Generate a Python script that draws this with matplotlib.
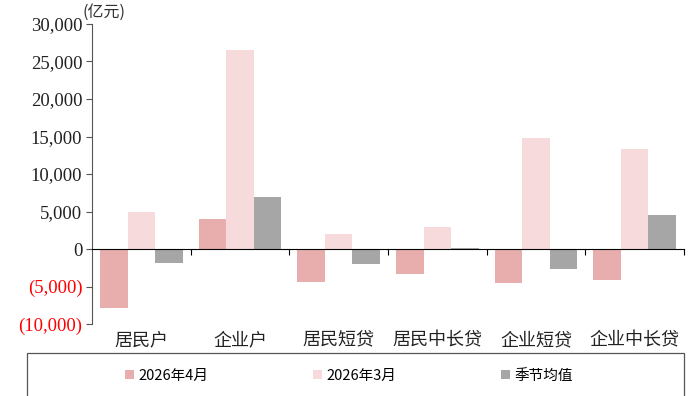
import matplotlib
matplotlib.use("Agg")
import matplotlib.pyplot as plt
from matplotlib.patches import Rectangle
from matplotlib.ticker import FuncFormatter
import numpy as np

categories = ["居民户", "企业户", "居民短贷", "居民中长贷", "企业短贷", "企业中长贷"]
series_names = ["2026年4月", "2026年3月", "季节均值"]
apr_2026 = [-7900, 4000, -4400, -3300, -4500, -4100]
mar_2026 = [4950, 26550, 2000, 2950, 14800, 13350]
seasonal_avg = [-1850, 6950, -2000, 100, -2700, 4500]
y_ticks = [-10000, -5000, 0, 5000, 10000, 15000, 20000, 25000, 30000]

colors = ["#E8AEAD", "#F7DBDC", "#A6A6A6"]
cjk = ["Noto Sans CJK SC", "DejaVu Sans"]
serif = "Liberation Serif"

fig = plt.figure(figsize=(6.97, 3.96), dpi=100)
ax = fig.add_axes([92 / 697, 1 - 324 / 396, (684 - 92) / 697, 300 / 396])

x = np.arange(len(categories))
w = 0.28
for i, (vals, name) in enumerate(zip([apr_2026, mar_2026, seasonal_avg], series_names)):
    ax.bar(x + (i - 1) * w, vals, width=w, color=colors[i], label=name, zorder=2)

ax.set_xlim(-0.5, len(categories) - 0.5)
ax.set_ylim(y_ticks[0], y_ticks[-1])
ax.set_yticks(y_ticks)


def fmt(v, pos):
    if v < 0:
        return "({:,.0f})".format(-v)
    return "{:,.0f}".format(v)


ax.yaxis.set_major_formatter(FuncFormatter(fmt))
for lbl, v in zip(ax.get_yticklabels(), y_ticks):
    lbl.set_fontfamily(serif)
    lbl.set_fontsize(13.5)
    lbl.set_color("red" if v < 0 else "#222222")
ax.tick_params(axis="y", direction="out", length=4, width=0.8, color="#555555", pad=3)

for s in ["top", "right"]:
    ax.spines[s].set_visible(False)
ax.spines["left"].set_color("#555555")
ax.spines["bottom"].set_position(("data", 0))
ax.spines["bottom"].set_color("black")
ax.spines["bottom"].set_zorder(3)
ax.set_xticks(np.arange(len(categories)) + 0.5)
ax.set_xticklabels([])
ax.tick_params(axis="x", direction="out", length=4, width=0.8, color="black")

for xi, c in zip(x, categories):
    ax.text(xi, -0.025, c, transform=ax.get_xaxis_transform(), ha="center", va="top",
            fontfamily=cjk, fontsize=13, color="#222222")

fig.text(83 / 697, 1 - 12 / 396, "(亿元)", fontfamily=cjk, fontsize=11.5, color="#333333",
         ha="left", va="center")

# legend panel
fig.patches.append(Rectangle((27 / 697, -0.05), (684 - 27) / 697, 0.05 + (396 - 353) / 396,
                             transform=fig.transFigure, fill=False, edgecolor="#555555",
                             linewidth=0.9))
handles, labels = ax.get_legend_handles_labels()
leg = fig.legend(handles, labels, loc="center", bbox_to_anchor=(349 / 697, 1 - 376 / 396),
                 ncol=3, frameon=False, handlelength=0.6, handleheight=0.6,
                 handletextpad=0.3, columnspacing=7.2, prop={"family": cjk, "size": 10.5})

fig.savefig("out.png", dpi=100)
